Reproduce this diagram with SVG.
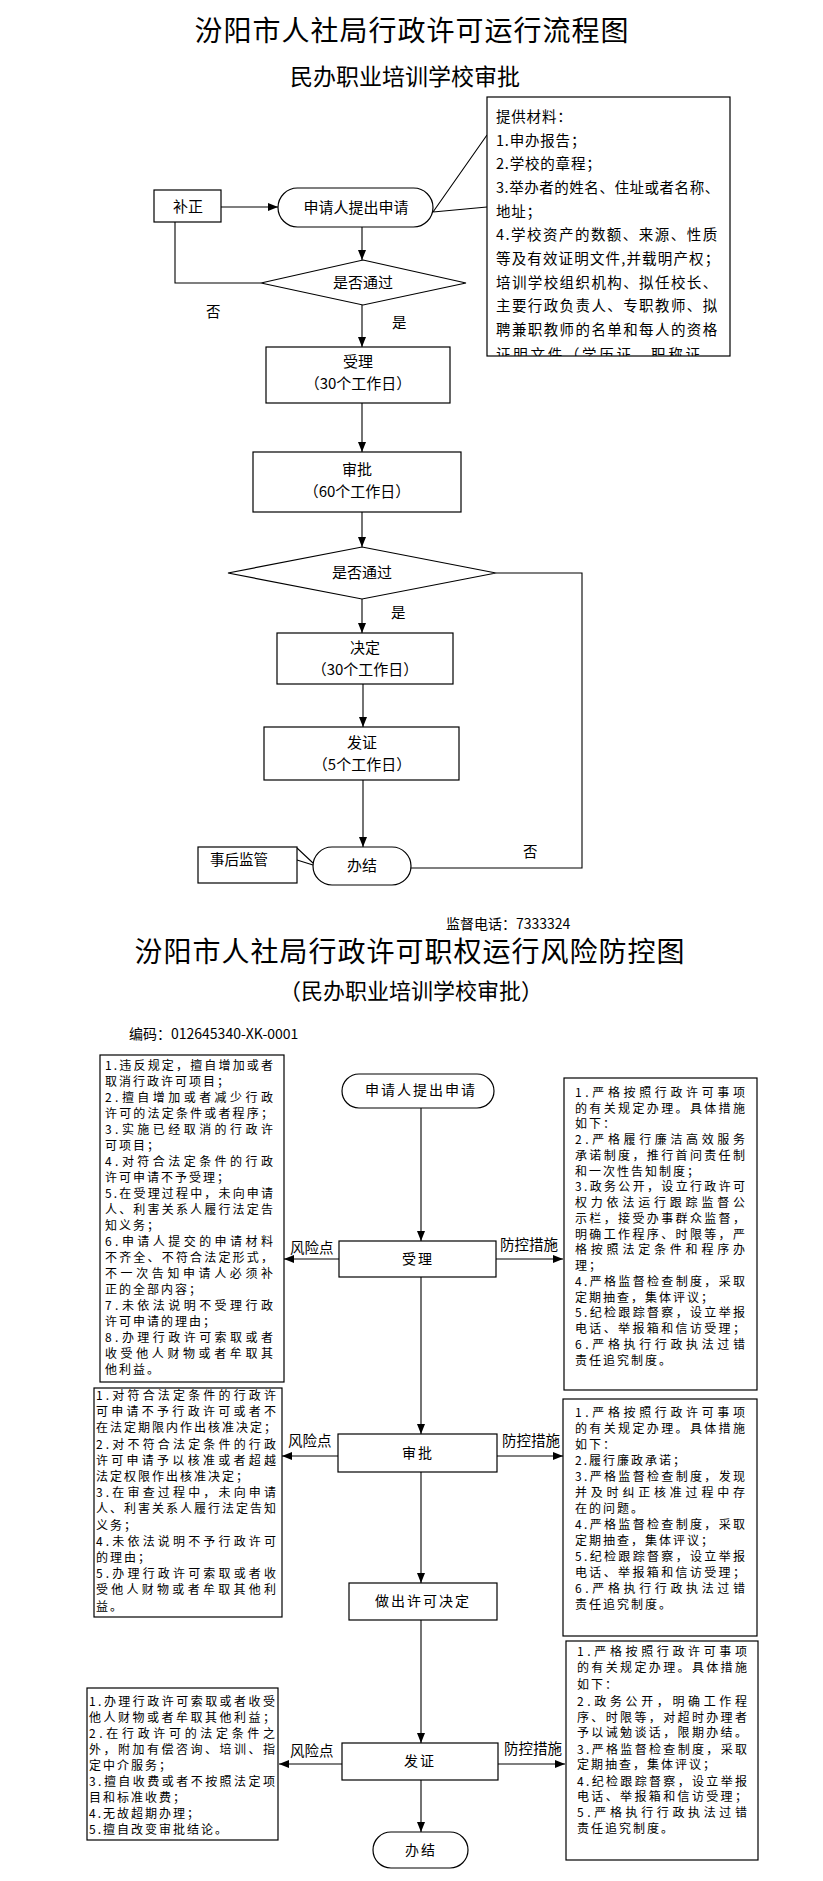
<svg xmlns="http://www.w3.org/2000/svg" width="823" height="1881" viewBox="0 0 823 1881">
<style>
.bg{fill:#fff}
.b{fill:#fff;stroke:#000;stroke-width:1.2}
.ln{fill:none;stroke:#000;stroke-width:1.1}
.ar{fill:none;stroke:#000;stroke-width:1.1;marker-end:url(#ah)}
.t{font-family:"Noto Sans CJK SC","Liberation Sans",sans-serif;fill:#000}
.h1{font-size:28px;letter-spacing:1px;text-anchor:middle}
.h2{font-size:23px;text-anchor:middle}
.n{font-size:15px;text-anchor:middle}
.n2{font-size:14px;text-anchor:middle;letter-spacing:2px}
.m{font-size:14.5px;letter-spacing:0.8px}
.s{font-size:12px}
.sl{font-size:12px;letter-spacing:2px}
.lb{font-size:14.5px}
</style>
<defs>
<marker id="ah" viewBox="0 0 10 8" refX="10" refY="4" markerWidth="10" markerHeight="8" markerUnits="userSpaceOnUse" orient="auto">
<path d="M0,0 L10,4 L0,8 z" fill="#000"/>
</marker>
<clipPath id="mc"><rect x="487" y="97" width="243" height="259"/></clipPath>
</defs>
<rect class="bg" x="0" y="0" width="823" height="1881"/>

<text class="t h1" x="412" y="41">汾阳市人社局行政许可运行流程图</text>
<text class="t h2" x="405" y="85">民办职业培训学校审批</text>

<g id="connectors">
<path class="ar" d="M221,207 H278"/>
<path class="ar" d="M362,227 V260"/>
<path class="ln" d="M175,222 V283 H261"/>
<path class="ar" d="M362,305 V347"/>
<path class="ar" d="M362,403 V452"/>
<path class="ar" d="M362,512 V547"/>
<path class="ar" d="M362,599 V633"/>
<path class="ar" d="M363,684 V727"/>
<path class="ar" d="M363,780 V847"/>
<path class="ln" d="M496,573 H582 V868 H411"/>
<path class="ln" d="M433,212 L487,135 M433,212 L487,207"/>
<path class="ln" d="M297,848 L313,863 M297,860 L313,865"/>
<path class="ar" d="M421,1108 V1241"/>
<path class="ar" d="M421,1277 V1434"/>
<path class="ar" d="M421,1472 V1583"/>
<path class="ar" d="M421,1620 V1743"/>
<path class="ar" d="M421,1780 V1832"/>
<path class="ar" d="M339,1259 H284"/>
<path class="ar" d="M496,1259 H563"/>
<path class="ar" d="M338,1456 H282"/>
<path class="ar" d="M497,1456 H563"/>
<path class="ar" d="M342,1764 H279"/>
<path class="ar" d="M498,1764 H565"/>
<text class="t lb" x="206" y="317">否</text>
<text class="t lb" x="392" y="328">是</text>
<text class="t lb" x="391" y="618">是</text>
<text class="t lb" x="523" y="857">否</text>
<text class="t lb" x="290" y="1253">风险点</text>
<text class="t lb" x="500" y="1250">防控措施</text>
<text class="t lb" x="288" y="1446">风险点</text>
<text class="t lb" x="502" y="1446">防控措施</text>
<text class="t lb" x="290" y="1756">风险点</text>
<text class="t lb" x="504" y="1754">防控措施</text>
</g>

<g id="bu-zheng">
<rect class="b" x="154" y="190" width="67" height="32"/>
<text class="t n" x="188" y="212">补正</text>
</g>
<g id="apply-top">
<rect class="b" x="278" y="188" width="155" height="39" rx="19.5"/>
<text class="t n" x="356" y="213">申请人提出申请</text>
</g>
<g id="materials">
<rect class="b" x="487" y="97" width="243" height="259"/>
<g clip-path="url(#mc)">
<text class="t m" x="496" y="122">提供材料：</text>
<text class="t m" x="496" y="146">1.申办报告；</text>
<text class="t m" x="496" y="169">2.学校的章程；</text>
<text class="t m" x="496" y="193" textLength="224" lengthAdjust="spacing">3.举办者的姓名、住址或者名称、</text>
<text class="t m" x="496" y="217">地址；</text>
<text class="t m" x="496" y="240" textLength="222" lengthAdjust="spacing">4.学校资产的数额、来源、性质</text>
<text class="t m" x="496" y="264" textLength="224" lengthAdjust="spacing">等及有效证明文件,并载明产权；</text>
<text class="t m" x="496" y="288" textLength="222" lengthAdjust="spacing">培训学校组织机构、拟任校长、</text>
<text class="t m" x="496" y="311" textLength="222" lengthAdjust="spacing">主要行政负责人、专职教师、拟</text>
<text class="t m" x="496" y="335" textLength="222" lengthAdjust="spacing">聘兼职教师的名单和每人的资格</text>
<text class="t m" x="496" y="360" textLength="222" lengthAdjust="spacing">证明文件（学历证、职称证、</text>
</g>
</g>
<g id="decision-1">
<polygon class="b" points="363,260 466,283 363,305 261,283"/>
<text class="t n" x="363" y="288">是否通过</text>
</g>
<g id="accept-top">
<rect class="b" x="266" y="347" width="184" height="56"/>
<text class="t n" x="358" y="367">受理</text>
<text class="t n" x="358" y="389">（30个工作日）</text>
</g>
<g id="approve-top">
<rect class="b" x="253" y="452" width="208" height="60"/>
<text class="t n" x="357" y="475">审批</text>
<text class="t n" x="357" y="497">（60个工作日）</text>
</g>
<g id="decision-2">
<polygon class="b" points="362,547 496,573 362,599 228,573"/>
<text class="t n" x="362" y="578">是否通过</text>
</g>
<g id="decide-top">
<rect class="b" x="277" y="633" width="176" height="51"/>
<text class="t n" x="365" y="653">决定</text>
<text class="t n" x="365" y="675">（30个工作日）</text>
</g>
<g id="issue-top">
<rect class="b" x="264" y="727" width="195" height="53"/>
<text class="t n" x="362" y="748">发证</text>
<text class="t n" x="362" y="770">（5个工作日）</text>
</g>
<g id="finish-top">
<rect class="b" x="313" y="847" width="98" height="38" rx="19"/>
<text class="t n" x="362" y="871">办结</text>
</g>
<g id="supervise">
<rect class="b" x="198" y="847" width="99" height="36"/>
<text class="t lb" x="210" y="865">事后监管</text>
</g>

<text class="t" x="446" y="929" font-size="14">监督电话：7333324</text>
<text class="t h1" x="410" y="962">汾阳市人社局行政许可职权运行风险防控图</text>
<text class="t" x="411" y="999" font-size="22" text-anchor="middle">（民办职业培训学校审批）</text>
<text class="t" x="129" y="1039" font-size="14">编码：012645340-XK-0001</text>

<g id="apply">
<rect class="b" x="342" y="1074" width="152" height="34" rx="17"/>
<text class="t n2" x="421" y="1095">申请人提出申请</text>
</g>
<g id="accept">
<rect class="b" x="339" y="1241" width="157" height="36"/>
<text class="t n2" x="418" y="1264">受理</text>
</g>
<g id="approve">
<rect class="b" x="338" y="1434" width="159" height="38"/>
<text class="t n2" x="418" y="1458">审批</text>
</g>
<g id="decide">
<rect class="b" x="349" y="1583" width="148" height="37"/>
<text class="t n2" x="423" y="1606">做出许可决定</text>
</g>
<g id="issue">
<rect class="b" x="342" y="1743" width="156" height="37"/>
<text class="t n2" x="420" y="1766">发证</text>
</g>
<g id="finish">
<rect class="b" x="373" y="1832" width="95" height="36" rx="18"/>
<text class="t n2" x="421" y="1855">办结</text>
</g>

<g id="risk-1">
<rect class="b" x="100" y="1055" width="184" height="327"/>
<text class="t s" x="105" y="1070" textLength="168" lengthAdjust="spacing">1.违反规定，擅自增加或者</text>
<text class="t sl" x="105" y="1086">取消行政许可项目；</text>
<text class="t s" x="105" y="1102" textLength="168" lengthAdjust="spacing">2.擅自增加或者减少行政</text>
<text class="t s" x="105" y="1118" textLength="168" lengthAdjust="spacing">许可的法定条件或者程序；</text>
<text class="t s" x="105" y="1134" textLength="168" lengthAdjust="spacing">3.实施已经取消的行政许</text>
<text class="t sl" x="105" y="1150">可项目；</text>
<text class="t s" x="105" y="1166" textLength="168" lengthAdjust="spacing">4.对符合法定条件的行政</text>
<text class="t sl" x="105" y="1182">许可申请不予受理；</text>
<text class="t s" x="105" y="1198" textLength="168" lengthAdjust="spacing">5.在受理过程中，未向申请</text>
<text class="t s" x="105" y="1214" textLength="168" lengthAdjust="spacing">人、利害关系人履行法定告</text>
<text class="t sl" x="105" y="1230">知义务；</text>
<text class="t s" x="105" y="1246" textLength="168" lengthAdjust="spacing">6.申请人提交的申请材料</text>
<text class="t s" x="105" y="1262" textLength="168" lengthAdjust="spacing">不齐全、不符合法定形式，</text>
<text class="t s" x="105" y="1278" textLength="168" lengthAdjust="spacing">不一次告知申请人必须补</text>
<text class="t sl" x="105" y="1294">正的全部内容；</text>
<text class="t s" x="105" y="1310" textLength="168" lengthAdjust="spacing">7.未依法说明不受理行政</text>
<text class="t sl" x="105" y="1326">许可申请的理由；</text>
<text class="t s" x="105" y="1342" textLength="168" lengthAdjust="spacing">8.办理行政许可索取或者</text>
<text class="t s" x="105" y="1358" textLength="168" lengthAdjust="spacing">收受他人财物或者牟取其</text>
<text class="t sl" x="105" y="1374">他利益。</text>
</g>

<g id="risk-2">
<rect class="b" x="94" y="1388" width="188" height="229"/>
<text class="t s" x="96" y="1400" textLength="180" lengthAdjust="spacing">1.对符合法定条件的行政许</text>
<text class="t s" x="96" y="1416" textLength="180" lengthAdjust="spacing">可申请不予行政许可或者不</text>
<text class="t s" x="96" y="1432" textLength="180" lengthAdjust="spacing">在法定期限内作出核准决定；</text>
<text class="t s" x="96" y="1449" textLength="180" lengthAdjust="spacing">2.对不符合法定条件的行政</text>
<text class="t s" x="96" y="1465" textLength="180" lengthAdjust="spacing">许可申请予以核准或者超越</text>
<text class="t sl" x="96" y="1481">法定权限作出核准决定；</text>
<text class="t s" x="96" y="1497" textLength="180" lengthAdjust="spacing">3.在审查过程中，未向申请</text>
<text class="t s" x="96" y="1513" textLength="180" lengthAdjust="spacing">人、利害关系人履行法定告知</text>
<text class="t sl" x="96" y="1530">义务；</text>
<text class="t s" x="96" y="1546" textLength="180" lengthAdjust="spacing">4.未依法说明不予行政许可</text>
<text class="t sl" x="96" y="1562">的理由；</text>
<text class="t s" x="96" y="1578" textLength="180" lengthAdjust="spacing">5.办理行政许可索取或者收</text>
<text class="t s" x="96" y="1594" textLength="180" lengthAdjust="spacing">受他人财物或者牟取其他利</text>
<text class="t sl" x="96" y="1611">益。</text>
</g>

<g id="risk-3">
<rect class="b" x="87" y="1688" width="191" height="152"/>
<text class="t s" x="89" y="1706" textLength="186" lengthAdjust="spacing">1.办理行政许可索取或者收受</text>
<text class="t s" x="89" y="1722" textLength="186" lengthAdjust="spacing">他人财物或者牟取其他利益；</text>
<text class="t s" x="89" y="1738" textLength="186" lengthAdjust="spacing">2.在行政许可的法定条件之</text>
<text class="t s" x="89" y="1754" textLength="186" lengthAdjust="spacing">外，附加有偿咨询、培训、指</text>
<text class="t sl" x="89" y="1770">定中介服务；</text>
<text class="t s" x="89" y="1786" textLength="186" lengthAdjust="spacing">3.擅自收费或者不按照法定项</text>
<text class="t sl" x="89" y="1802">目和标准收费；</text>
<text class="t sl" x="89" y="1818">4.无故超期办理；</text>
<text class="t sl" x="89" y="1834">5.擅自改变审批结论。</text>
</g>

<g id="control-1">
<rect class="b" x="564" y="1078" width="193" height="312"/>
<text class="t s" x="575" y="1097" textLength="170" lengthAdjust="spacing">1.严格按照行政许可事项</text>
<text class="t s" x="575" y="1113" textLength="170" lengthAdjust="spacing">的有关规定办理。具体措施</text>
<text class="t sl" x="575" y="1128">如下：</text>
<text class="t s" x="575" y="1144" textLength="170" lengthAdjust="spacing">2.严格履行廉洁高效服务</text>
<text class="t s" x="575" y="1160" textLength="170" lengthAdjust="spacing">承诺制度，推行首问责任制</text>
<text class="t sl" x="575" y="1176">和一次性告知制度；</text>
<text class="t s" x="575" y="1191" textLength="170" lengthAdjust="spacing">3.政务公开，设立行政许可</text>
<text class="t s" x="575" y="1207" textLength="170" lengthAdjust="spacing">权力依法运行跟踪监督公</text>
<text class="t s" x="575" y="1223" textLength="170" lengthAdjust="spacing">示栏，接受办事群众监督，</text>
<text class="t s" x="575" y="1239" textLength="170" lengthAdjust="spacing">明确工作程序、时限等，严</text>
<text class="t s" x="575" y="1254" textLength="170" lengthAdjust="spacing">格按照法定条件和程序办</text>
<text class="t sl" x="575" y="1270">理；</text>
<text class="t s" x="575" y="1286" textLength="170" lengthAdjust="spacing">4.严格监督检查制度，采取</text>
<text class="t sl" x="575" y="1302">定期抽查，集体评议；</text>
<text class="t s" x="575" y="1317" textLength="170" lengthAdjust="spacing">5.纪检跟踪督察，设立举报</text>
<text class="t s" x="575" y="1333" textLength="170" lengthAdjust="spacing">电话、举报箱和信访受理；</text>
<text class="t s" x="575" y="1349" textLength="170" lengthAdjust="spacing">6.严格执行行政执法过错</text>
<text class="t sl" x="575" y="1365">责任追究制度。</text>
</g>

<g id="control-2">
<rect class="b" x="563" y="1399" width="194" height="237"/>
<text class="t s" x="575" y="1417" textLength="170" lengthAdjust="spacing">1.严格按照行政许可事项</text>
<text class="t s" x="575" y="1433" textLength="170" lengthAdjust="spacing">的有关规定办理。具体措施</text>
<text class="t sl" x="575" y="1449">如下：</text>
<text class="t sl" x="575" y="1465">2.履行廉政承诺；</text>
<text class="t s" x="575" y="1481" textLength="170" lengthAdjust="spacing">3.严格监督检查制度，发现</text>
<text class="t s" x="575" y="1497" textLength="170" lengthAdjust="spacing">并及时纠正核准过程中存</text>
<text class="t sl" x="575" y="1513">在的问题。</text>
<text class="t s" x="575" y="1529" textLength="170" lengthAdjust="spacing">4.严格监督检查制度，采取</text>
<text class="t sl" x="575" y="1545">定期抽查，集体评议；</text>
<text class="t s" x="575" y="1561" textLength="170" lengthAdjust="spacing">5.纪检跟踪督察，设立举报</text>
<text class="t s" x="575" y="1577" textLength="170" lengthAdjust="spacing">电话、举报箱和信访受理；</text>
<text class="t s" x="575" y="1593" textLength="170" lengthAdjust="spacing">6.严格执行行政执法过错</text>
<text class="t sl" x="575" y="1609">责任追究制度。</text>
</g>

<g id="control-3">
<rect class="b" x="566" y="1641" width="192" height="219"/>
<text class="t s" x="577" y="1656" textLength="170" lengthAdjust="spacing">1.严格按照行政许可事项</text>
<text class="t s" x="577" y="1672" textLength="170" lengthAdjust="spacing">的有关规定办理。具体措施</text>
<text class="t sl" x="577" y="1689">如下：</text>
<text class="t s" x="577" y="1706" textLength="170" lengthAdjust="spacing">2.政务公开，明确工作程</text>
<text class="t s" x="577" y="1722" textLength="170" lengthAdjust="spacing">序、时限等，对超时办理者</text>
<text class="t s" x="577" y="1737" textLength="170" lengthAdjust="spacing">予以诫勉谈话，限期办结。</text>
<text class="t s" x="577" y="1754" textLength="170" lengthAdjust="spacing">3.严格监督检查制度，采取</text>
<text class="t sl" x="577" y="1769">定期抽查，集体评议；</text>
<text class="t s" x="577" y="1786" textLength="170" lengthAdjust="spacing">4.纪检跟踪督察，设立举报</text>
<text class="t s" x="577" y="1801" textLength="170" lengthAdjust="spacing">电话、举报箱和信访受理；</text>
<text class="t s" x="577" y="1817" textLength="170" lengthAdjust="spacing">5.严格执行行政执法过错</text>
<text class="t sl" x="577" y="1833">责任追究制度。</text>
</g>
</svg>
